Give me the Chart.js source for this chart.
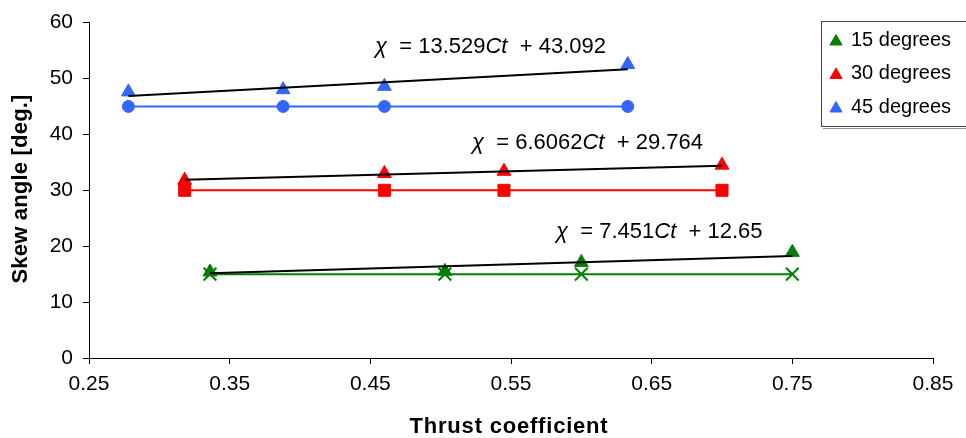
<!DOCTYPE html>
<html>
<head>
<meta charset="utf-8">
<script src="https://cdn.jsdelivr.net/npm/chart.js@4/dist/chart.umd.min.js"></script>
<style>
  body { margin: 0; background: #fff; }
</style>
</head>
<body>
<canvas id="myChart" width="966" height="438"></canvas>
<script>
// values
const xTicks = [0.25, 0.35, 0.45, 0.55, 0.65, 0.75, 0.85];
const yTicks = [0, 10, 20, 30, 40, 50, 60];

const ct15 = [0.336, 0.503, 0.600, 0.750];
const skew15 = [15.4, 15.5, 17.1, 18.9];
const set15 = [15, 15, 15, 15];
const trend15 = [15.15, 18.24];

const ct30 = [0.318, 0.460, 0.545, 0.700];
const skew30 = [31.8, 33.0, 33.4, 34.5];
const set30 = [30, 30, 30, 30];
const trend30 = [31.87, 34.39];

const ct45 = [0.278, 0.388, 0.460, 0.633];
const skew45 = [47.6, 48.0, 48.6, 52.5];
const set45 = [45, 45, 45, 45];
const trend45 = [46.85, 51.66];

const seriesNames = ['15 degrees', '30 degrees', '45 degrees'];
const equations = [
  ['7.451', '12.65'],
  ['6.6062', '29.764'],
  ['13.529', '43.092'],
];

const GREEN = '#008000', RED = '#ff0000', BLUE = '#3366ff';
const colors = [GREEN, RED, BLUE];

const pts = (xs, ys) => xs.map((x, i) => ({ x: x, y: ys[i] }));
const ends = (xs, ys) => [{ x: xs[0], y: ys[0] }, { x: xs[xs.length - 1], y: ys[1] }];

const trend = (xs, ys) => ({
  data: ends(xs, ys), showLine: true, borderColor: '#000', borderWidth: 2,
  pointRadius: 0, fill: false,
});
const tri = (xs, ys, c) => ({
  data: pts(xs, ys), showLine: false, pointStyle: 'triangle', pointRadius: 8,
  backgroundColor: c, borderColor: c, pointBorderWidth: 1,
});
const base = (xs, ys, c, style, r, bw) => ({
  data: pts(xs, ys), showLine: true, borderColor: c, borderWidth: 2,
  pointStyle: style, pointRadius: r, backgroundColor: c, pointBorderColor: c,
  pointBorderWidth: bw,
});

// equations, legend box and axis titles
const decor = {
  id: 'decor',
  afterDraw(chart) {
    const ctx = chart.ctx;
    ctx.save();
    ctx.fillStyle = '#000';
    ctx.textBaseline = 'alphabetic';
    ctx.textAlign = 'left';

    const eqPos = [[556, 238], [472, 149], [375, 53]];
    equations.forEach((eq, i) => {
      let [x, y] = eqPos[i];
      const parts = [
        ['italic 22px "Liberation Sans"', 'χ'],
        ['22px "Liberation Sans"', '  = ' + eq[0]],
        ['italic 22px "Liberation Sans"', 'Ct'],
        ['22px "Liberation Sans"', '  + ' + eq[1]],
      ];
      parts.forEach(([f, t]) => {
        ctx.font = f;
        ctx.fillText(t, x, y);
        x += ctx.measureText(t).width;
      });
    });

    // legend
    ctx.strokeStyle = '#404040';
    ctx.lineWidth = 1;
    ctx.strokeRect(821.5, 21.5, 160, 105);
    ctx.strokeStyle = '#909090';
    ctx.beginPath();
    ctx.moveTo(823, 128.5);
    ctx.lineTo(966, 128.5);
    ctx.stroke();
    ctx.font = '20px "Liberation Sans"';
    ctx.textBaseline = 'middle';
    seriesNames.forEach((name, i) => {
      const y = 40 + i * 33.5;
      ctx.fillStyle = colors[i];
      ctx.strokeStyle = colors[i];
      Chart.helpers.drawPoint(ctx, { pointStyle: 'triangle', radius: 7, borderWidth: 1, rotation: 0 }, 836, y + 1.5);
      ctx.fillStyle = '#000';
      ctx.fillText(name, 851, y);
    });

    // axis titles
    ctx.font = 'bold 22px "Liberation Sans"';
    ctx.textAlign = 'center';
    ctx.letterSpacing = '0.8px';
    ctx.fillText('Thrust coefficient', 509, 427);
    ctx.letterSpacing = '0.2px';
    ctx.translate(21, 189);
    ctx.rotate(-Math.PI / 2);
    ctx.fillText('Skew angle [deg.]', 0, 0);
    ctx.restore();
  },
};

Chart.defaults.font.family = '"Liberation Sans", Arial, sans-serif';
Chart.defaults.color = '#000';

new Chart(document.getElementById('myChart').getContext('2d'), {
  type: 'scatter',
  data: {
    datasets: [
      trend(ct45, trend45),
      trend(ct30, trend30),
      trend(ct15, trend15),
      tri(ct45, skew45, BLUE),
      tri(ct30, skew30, RED),
      tri(ct15, skew15, GREEN),
      base(ct45, set45, BLUE, 'circle', 6, 1),
      base(ct30, set30, RED, 'rect', 8.5, 1),
      base(ct15, set15, GREEN, 'crossRot', 9, 2),
    ],
  },
  options: {
    responsive: false,
    animation: false,
    layout: { padding: { top: 20, right: 33, left: 0, bottom: 0 } },
    plugins: { legend: { display: false }, tooltip: { enabled: false } },
    scales: {
      x: {
        type: 'linear',
        min: 0.25,
        max: 0.85,
        afterBuildTicks: (s) => { s.ticks = xTicks.map((v) => ({ value: v })); },
        afterFit: (s) => { s.height = 80; },
        ticks: { font: { size: 21 }, padding: 8, callback: (v) => v.toFixed(2), maxRotation: 0 },
        grid: { drawOnChartArea: false, tickLength: 6, color: '#000' },
        border: { color: '#000', width: 1 },
      },
      y: {
        min: 0,
        max: 60,
        afterBuildTicks: (s) => { s.ticks = yTicks.map((v) => ({ value: v })); },
        afterFit: (s) => { s.width = 89; },
        ticks: { font: { size: 21 }, padding: 10 },
        grid: { drawOnChartArea: false, tickLength: 6, color: '#000' },
        border: { color: '#000', width: 1 },
      },
    },
  },
  plugins: [decor],
});
</script>
</body>
</html>
